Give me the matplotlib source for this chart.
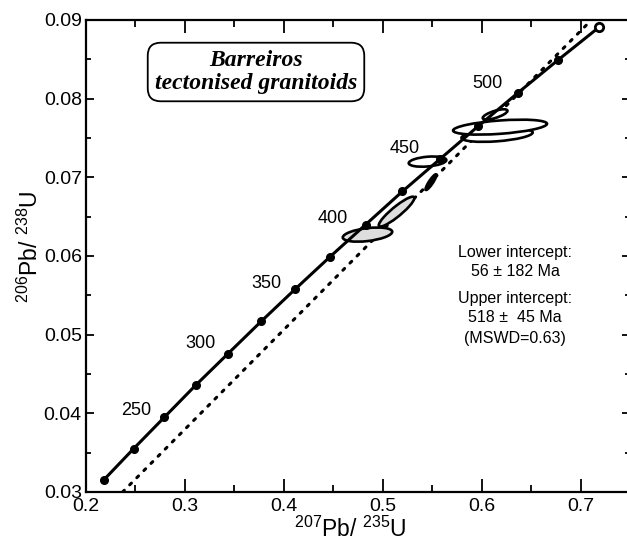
import numpy as np
import matplotlib
matplotlib.use('Agg')
from matplotlib import pyplot as plt
from matplotlib.patches import Ellipse

plt.rcParams['font.family'] = ['Liberation Sans', 'DejaVu Sans']
plt.rcParams['mathtext.fontset'] = 'custom'
plt.rcParams['mathtext.rm'] = 'Liberation Sans'
plt.rcParams['mathtext.it'] = 'Liberation Sans:italic'
plt.rcParams['mathtext.bf'] = 'Liberation Sans:bold'

# concordia points, every 25 Ma from 200 to 550 Ma
conc_age = [200, 225, 250, 275, 300, 325, 350, 375, 400, 425, 450, 475, 500, 525, 550]
conc_x = [0.2177, 0.2481, 0.2792, 0.3111, 0.3437, 0.3772, 0.4116, 0.4467,
          0.4828, 0.5198, 0.5577, 0.5965, 0.6363, 0.6771, 0.7189]
conc_y = [0.0315, 0.0355, 0.0395, 0.0436, 0.0476, 0.0517, 0.0558, 0.0599,
          0.0640, 0.0682, 0.0723, 0.0765, 0.0807, 0.0849, 0.0891]
age_labels = [250, 300, 350, 400, 450, 500]

# discordia through the data (dotted)
disc_x = [0.237, 0.711]
disc_y = [0.030, 0.090]

# analyses: centre, half extent in x / y, correlation
ell_x = [0.4846, 0.5140, 0.5488, 0.5453, 0.6156, 0.6186, 0.6136]
ell_y = [0.06272, 0.06564, 0.06939, 0.0720, 0.07536, 0.07638, 0.0780]
ell_sx = [0.0250, 0.0180, 0.0055, 0.0190, 0.0360, 0.0475, 0.0125]
ell_sy = [0.00090, 0.00190, 0.00100, 0.00065, 0.00085, 0.00095, 0.00065]
ell_rho = [0.40, 0.91, 0.90, 0.30, 0.40, 0.45, 0.70]
ell_fill = ['#dedede', '#dedede', 'black', 'white', 'white', 'white', 'white']

xticks = [0.2, 0.3, 0.4, 0.5, 0.6, 0.7]
xminor = [0.25, 0.35, 0.45, 0.55, 0.65, 0.75]
yticks = [0.03, 0.04, 0.05, 0.06, 0.07, 0.08, 0.09]
yminor = [0.035, 0.045, 0.055, 0.065, 0.075, 0.085]

fig = plt.figure(figsize=(6.27, 5.41), dpi=100)
ax = fig.add_axes([86 / 627, 49 / 541, 544 / 627, 472 / 541])

ax.plot(disc_x, disc_y, color='black', lw=2.2, ls=(0, (0.8, 2.5)),
        dash_capstyle='round', zorder=1)

for x, y, sx, sy, r, fc in zip(ell_x, ell_y, ell_sx, ell_sy, ell_rho, ell_fill):
    cov = np.array([[sx * sx, r * sx * sy], [r * sx * sy, sy * sy]])
    vals, vecs = np.linalg.eigh(cov)
    ang = np.degrees(np.arctan2(vecs[1, 1], vecs[0, 1]))
    e = Ellipse((x, y), 2 * np.sqrt(vals[1]), 2 * np.sqrt(vals[0]), angle=ang,
                facecolor=fc, edgecolor='black', lw=1.9, zorder=2)
    ax.add_patch(e)

ax.plot(conc_x, conc_y, color='black', lw=2.2, marker='o', ms=5.5, zorder=3)
ax.plot(conc_x[-1], conc_y[-1], marker='o', ms=6, mfc='white', mec='black',
        mew=2, zorder=4)

offs = [(-20, 5), (-20, 7), (-21, 4), (-24, 4), (-25, 8), (-22, 7)]
for a, off in zip(age_labels, offs):
    i = conc_age.index(a)
    ax.annotate(str(a), (conc_x[i], conc_y[i]), xytext=off, textcoords='offset points',
                ha='center', va='center', fontsize=13)

ax.text((256 - 86) / 544, (492 - 72) / 472, 'Barreiros\ntectonised granitoids',
        transform=ax.transAxes, ha='center', va='center', family='Liberation Serif',
        style='italic', weight='bold', fontsize=17, linespacing=1.15,
        bbox=dict(boxstyle='round,pad=0.3,rounding_size=0.55', fc='white',
                  ec='black', lw=1.3))

tx = (515 - 86) / 544
for txt, py in [('Lower intercept:', 252), ('56 ± 182 Ma', 272),
                ('Upper intercept:', 298), ('518 ±  45 Ma', 318),
                ('(MSWD=0.63)', 338)]:
    ax.text(tx, (492 - py) / 472, txt, transform=ax.transAxes,
            ha='center', va='center', fontsize=11.5)

ax.set_xlim(0.2, 0.75)
ax.set_ylim(0.03, 0.09)
ax.set_xticks(xticks)
ax.set_xticklabels([f'{v:.1f}' for v in xticks])
ax.set_xticks(xminor, minor=True)
ax.set_yticks(yticks)
ax.set_yticklabels([f'{v:.2f}' for v in yticks])
ax.set_yticks(yminor, minor=True)
ax.tick_params(axis='both', which='both', direction='in', top=True, right=True,
               width=1.3, labelsize=14)
ax.tick_params(axis='x', which='major', length=9.5, pad=4)
ax.tick_params(axis='x', which='minor', length=5)
ax.tick_params(axis='y', which='major', length=6, pad=3)
ax.tick_params(axis='y', which='minor', length=3.5)
for s in ax.spines.values():
    s.set_linewidth(1.6)

fig.text(350 / 627, 1 - 537 / 541, r'$^{207}$Pb/ $^{235}$U', ha='center',
         va='baseline', fontsize=16.5)
fig.text(30 / 627, 1 - 247 / 541, r'$^{206}$Pb/ $^{238}$U', ha='center',
         va='center', fontsize=16.5, rotation=90)

fig.savefig('out.png', dpi=100)
